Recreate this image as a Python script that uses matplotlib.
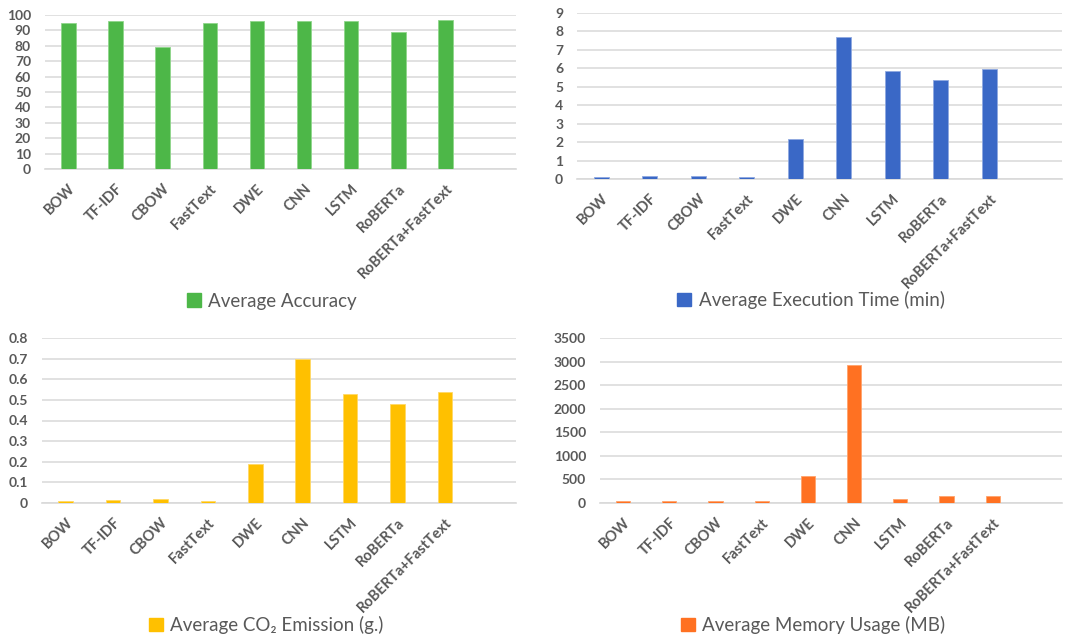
import matplotlib
matplotlib.use("Agg")
import matplotlib.pyplot as plt
from matplotlib.patches import Patch
import numpy as np

plt.rcParams['font.family'] = ['Lato', 'DejaVu Sans']

models = ["BOW", "TF-IDF", "CBOW", "FastText", "DWE", "CNN", "LSTM",
          "RoBERTa", "RoBERTa+FastText"]

accuracy = [95, 96, 79.5, 95, 96, 96, 96, 89, 96.5]
exec_time = [0.1, 0.17, 0.17, 0.1, 2.16, 7.71, 5.85, 5.35, 5.98]
co2 = [0.009, 0.014, 0.018, 0.008, 0.19, 0.698, 0.53, 0.48, 0.54]
memory = [35, 35, 35, 35, 567, 2927, 78, 149, 149]

acc_ticks = list(range(0, 101, 10))
time_ticks = list(range(0, 10))
co2_ticks = [0, 0.1, 0.2, 0.3, 0.4, 0.5, 0.6, 0.7, 0.8]
co2_labels = ["0", "0.1", "0.2", "0.3", "0.4", "0.5", "0.6", "0.7", "0.8"]
mem_ticks = list(range(0, 3501, 500))

TEXT = "#595959"
GRID = "#D9D9D9"

W, H = 1072, 638
fig = plt.figure(figsize=(W / 100, H / 100), dpi=100)


def px_axes(x0, x1, ytop, ybot):
    return fig.add_axes([x0 / W, 1 - ybot / H, (x1 - x0) / W, (ybot - ytop) / H])


panels = [
    # (box, values, ticks, ticklabels, color, edge, legend text, legend center)
    ((45, 516, 15, 169), accuracy, acc_ticks, None, "#4DB748", "#8FD68B",
     "Average Accuracy", (272, 301)),
    ((577, 1062, 13, 179), exec_time, time_ticks, None, "#3A68C6", "#8FA9E0",
     "Average Execution Time (min)", (811, 300)),
    ((42, 516, 338, 503), co2, co2_ticks, co2_labels, "#FFC000", "#FFD966",
     "Average CO\u2082 Emission (g.)", (266, 625)),
    ((600, 1062, 338, 503), memory, mem_ticks, None, "#FF7122", "#FFA36B",
     "Average Memory Usage (MB)", (813, 625)),
]

for box, vals, ticks, tlabels, color, edge, label, (lx, ly) in panels:
    ax = px_axes(*box)
    x = np.arange(len(vals))
    ax.bar(x, vals, width=0.31, color=color, edgecolor=edge, linewidth=0.6,
           zorder=3)
    ax.set_xlim(-0.5, len(vals) + 0.5)
    ax.set_ylim(ticks[0], ticks[-1])
    ax.set_yticks(ticks)
    if tlabels is not None:
        ax.set_yticklabels(tlabels)
    ax.set_xticks(x)
    ax.set_xticklabels(models, rotation=45, ha="right", va="top",
                       rotation_mode="anchor")
    ax.tick_params(axis="both", length=0, colors=TEXT)
    ax.tick_params(axis="y", pad=10, labelsize=10)
    ax.tick_params(axis="x", pad=9, labelsize=10.5)
    for lab in ax.get_xticklabels() + ax.get_yticklabels():
        lab.set_fontweight("bold")
        lab.set_color(TEXT)
    for s in ["top", "right", "left"]:
        ax.spines[s].set_visible(False)
    ax.spines["bottom"].set_color(GRID)
    ax.spines["bottom"].set_linewidth(1.2)
    ax.yaxis.grid(True, color=GRID, linewidth=1.1, zorder=0)
    ax.set_axisbelow(True)

    fig.legend(handles=[Patch(facecolor=color, edgecolor=color)], labels=[label],
               loc="center", bbox_to_anchor=(lx / W, 1 - ly / H), frameon=False,
               fontsize=13.5, labelcolor=TEXT, handlelength=0.75,
               handleheight=0.75, handletextpad=0.4)

fig.savefig("out.png", dpi=100)
